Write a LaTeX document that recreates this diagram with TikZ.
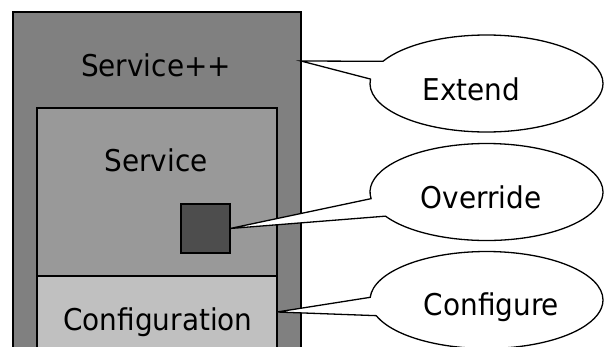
\documentclass[tikz,border=0pt]{standalone}
\usepackage{fontspec}
\setmainfont{DejaVu Sans}[FakeStretch=0.93]
\usetikzlibrary{shapes.callouts}

\definecolor{outerGray}{RGB}{128,128,128}
\definecolor{svcGray}{RGB}{153,153,153}
\definecolor{cfgGray}{RGB}{192,192,192}
\definecolor{hookGray}{RGB}{77,77,77}

\tikzset{
  block/.style={draw=black, line width=1.3pt, anchor=north west, inner sep=0pt, outer sep=0pt},
  bubble/.style={ellipse callout, draw=black, fill=white, line width=1.3pt,
    minimum width=233pt, minimum height=97pt, inner sep=0pt, outer sep=0pt,
    callout pointer arc=22},
  lbl/.style={anchor=base, inner sep=0pt, font=\fontsize{30}{36}\selectfont}
}

\begin{document}
\begin{tikzpicture}[x=1pt,y=-1pt]
  \useasboundingbox (0,0) rectangle (605,346);
  \clip (0,0) rectangle (605,346);

  % nested component boxes
  \node[block, fill=outerGray, minimum width=288pt, minimum height=348pt] (outer) at (13,12) {};
  \node[block, fill=svcGray, minimum width=240pt, minimum height=168pt] (svc) at (37,108) {};
  \node[block, fill=cfgGray, minimum width=240pt, minimum height=84pt] (cfg) at (37,276) {};
  \node[block, fill=hookGray, minimum width=49pt, minimum height=49pt] (hook) at (181,204) {};

  \node[lbl] (outerT) at (156,76.5) {Service++};
  \node[lbl] (svcT) at (156,171.5) {Service};
  \node[lbl] (cfgT) at (158,330) {Configuration};

  % speech bubbles pointing at the parts they describe
  \node[bubble, callout absolute pointer={(outer.east |- 0,61)}] (ext) at (486.5,83.5) {};
  \node[bubble, callout absolute pointer={(hook.east)}] (ovr) at (486.5,192) {};
  \node[bubble, callout absolute pointer={(cfg.east |- 0,312)}] (conf) at (486.5,300) {};

  \node[lbl] (extT) at (471.5,100) {Extend};
  \node[lbl] (ovrT) at (481,208) {Override};
  \node[lbl] (confT) at (491.5,315) {Configure};
\end{tikzpicture}
\end{document}
